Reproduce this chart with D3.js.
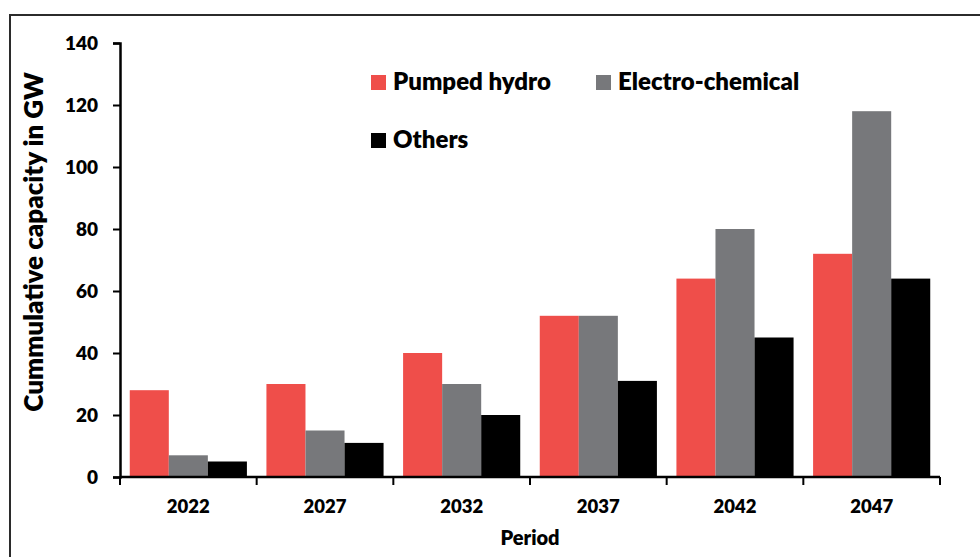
<!DOCTYPE html>
<html>
<head>
<meta charset="utf-8">
<script src="https://cdn.jsdelivr.net/npm/d3@7"></script>
<style>
  html, body { margin: 0; padding: 0; background: #fff; }
  svg { display: block; }
  text { font-family: Lato, "Open Sans", sans-serif; font-weight: 800; fill: #000; }
</style>
</head>
<body>
<svg id="chart" width="980" height="557"></svg>
<script>
// Storage capacity by period (GW)
const periods = ["2022", "2027", "2032", "2037", "2042", "2047"];
const seriesNames = ["Pumped hydro", "Electro-chemical", "Others"];
const pumpedHydro = [28, 30, 40, 52, 64, 72];
const electroChemical = [7, 15, 30, 52, 80, 118];
const others = [5, 11, 20, 31, 45, 64];
const yTicks = [0, 20, 40, 60, 80, 100, 120, 140];
const colors = ["#ef4e4a", "#77787b", "#000000"];

const series = [pumpedHydro, electroChemical, others];

const svg = d3.select("#chart");
const margin = { left: 120, right: 40, top: 43, bottom: 80 };
const width = 980, height = 557;

// outer frame
svg.append("rect")
  .attr("x", 10).attr("y", 15)
  .attr("width", 990).attr("height", 560)
  .attr("fill", "none").attr("stroke", "#2b2b2b").attr("stroke-width", 2);

const x = d3.scaleBand().domain(periods)
  .range([margin.left, width - margin.right]).paddingInner(0).paddingOuter(0);
const xInner = d3.scaleBand().domain(d3.range(series.length))
  .range([0, x.bandwidth()]).paddingOuter(0.25).paddingInner(0);
const y = d3.scaleLinear().domain([0, 140]).range([height - margin.bottom, margin.top]);

// bars
const groups = svg.append("g").selectAll("g").data(periods).join("g")
  .attr("transform", d => `translate(${x(d)},0)`);
groups.selectAll("rect")
  .data((p, i) => series.map((s, k) => ({ k, v: s[i] })))
  .join("rect")
  .attr("x", d => xInner(d.k))
  .attr("width", xInner.bandwidth())
  .attr("y", d => y(d.v))
  .attr("height", d => y(0) - y(d.v))
  .attr("fill", d => colors[d.k]);

// y axis
const yAxis = svg.append("g")
  .attr("transform", `translate(${margin.left},0)`)
  .call(d3.axisLeft(y).tickValues(yTicks).tickSize(7).tickPadding(15));
yAxis.select(".domain").attr("stroke", "#000").attr("stroke-width", 2.5);
yAxis.selectAll(".tick line").attr("stroke", "#000").attr("stroke-width", 2);
yAxis.selectAll(".tick text")
  .attr("font-size", 19)
  .attr("font-family", "Lato, sans-serif")
  .attr("font-weight", 800);

// x axis: ticks at band edges
const edges = periods.map(p => x(p)).concat([x.range()[1]]);
const xAxis = svg.append("g").attr("transform", `translate(0,${y(0)})`);
xAxis.append("line")
  .attr("x1", margin.left).attr("x2", width - margin.right)
  .attr("stroke", "#000").attr("stroke-width", 2.5);
xAxis.selectAll("line.edge").data(edges).join("line")
  .attr("class", "edge")
  .attr("x1", d => d).attr("x2", d => d)
  .attr("y1", 0).attr("y2", 8)
  .attr("stroke", "#000").attr("stroke-width", 2);
xAxis.selectAll("text").data(periods).join("text")
  .attr("x", d => x(d) + x.bandwidth() / 2)
  .attr("y", 36)
  .attr("text-anchor", "middle")
  .attr("font-size", 18.5)
  .text(d => d);

// axis titles
svg.append("text")
  .attr("x", (margin.left + width - margin.right) / 2)
  .attr("y", 545)
  .attr("text-anchor", "middle")
  .attr("font-size", 20)
  .text("Period");

svg.append("text")
  .attr("transform", "translate(43,242) rotate(-90)")
  .attr("text-anchor", "middle")
  .attr("font-size", 26)
  .text("Cummulative capacity in GW");

// legend
const legendPos = [[371, 75], [596, 75], [371, 133]];
const legend = svg.append("g").selectAll("g").data(seriesNames).join("g")
  .attr("transform", (d, i) => `translate(${legendPos[i][0]},${legendPos[i][1]})`);
legend.append("rect")
  .attr("width", 15).attr("height", 15)
  .attr("fill", (d, i) => colors[i]);
legend.append("text")
  .attr("x", 22).attr("y", 15)
  .attr("font-size", 24)
  .text(d => d);
</script>
</body>
</html>
